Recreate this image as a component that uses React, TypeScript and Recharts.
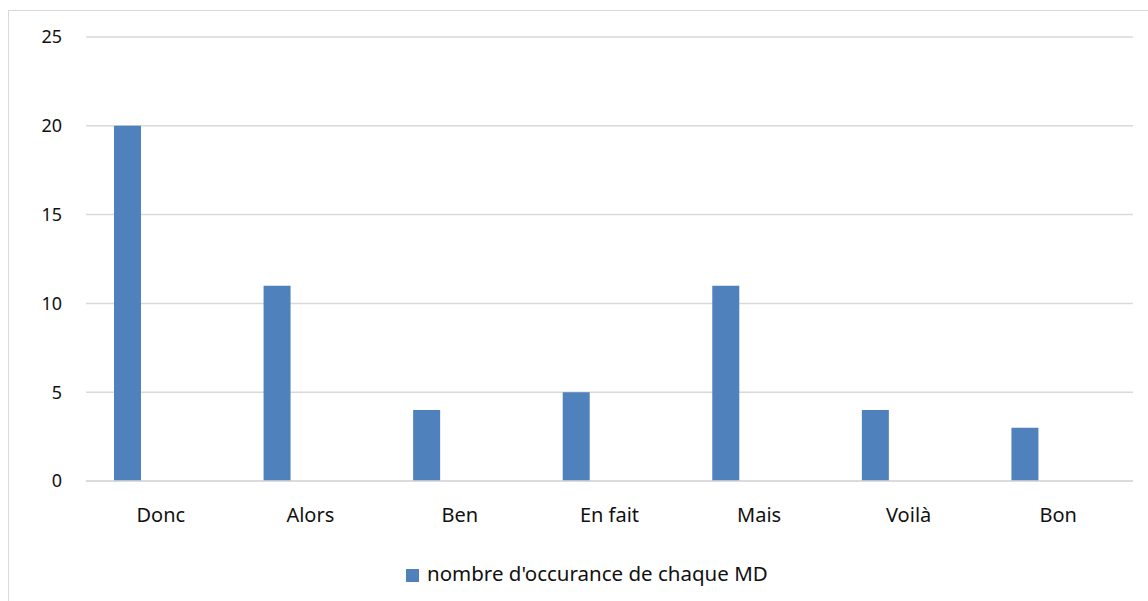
import { BarChart, Bar, XAxis, YAxis, CartesianGrid, Legend } from "recharts";

// Marqueurs discursifs (MD) et leurs occurrences
const categories = ["Donc", "Alors", "Ben", "En fait", "Mais", "Voilà", "Bon"];
const occurrences = [20, 11, 4, 5, 11, 4, 3];
// second series is empty in the source chart (keeps the bar on the left of each band)
const serieVide: (number | null)[] = [null, null, null, null, null, null, null];
const yTicks = [0, 5, 10, 15, 20, 25];

const SERIES_NAME = "nombre d'occurance de chaque MD";
const BLUE = "#4f81bd";
const GRID = "#d9d9d9";
const FONT = "'Noto Sans', sans-serif";

const data = categories.map((name, i) => ({
  name,
  occ: occurrences[i],
  vide: serieVide[i],
}));

export default function App() {
  return (
    <div
      style={{
        position: "absolute",
        left: 8,
        top: 10,
        width: 1142,
        height: 600,
        border: `1px solid ${GRID}`,
        boxSizing: "border-box",
        background: "#fff",
        fontFamily: FONT,
      }}
    >
      <BarChart
        width={1140}
        height={590}
        data={data}
        margin={{ top: 26, right: 16, left: 17, bottom: 62 }}
        barSize={27}
        barGap={40}
      >
        <CartesianGrid vertical={false} stroke={GRID} strokeWidth={1.5} />
        <XAxis
          dataKey="name"
          axisLine={{ stroke: GRID, strokeWidth: 1.5 }}
          tickLine={false}
          tickMargin={21}
          tick={{ fontSize: 20, fill: "#111", fontFamily: FONT }}
        />
        <YAxis
          width={60}
          domain={[0, 25]}
          ticks={yTicks}
          axisLine={false}
          tickLine={false}
          tickMargin={18}
          tick={{ fontSize: 18, fill: "#111", fontFamily: FONT }}
        />
        <Legend
          verticalAlign="bottom"
          align="left"
          iconType="square"
          iconSize={13}
          wrapperStyle={{ left: 397, top: 548, width: "auto", fontSize: 20.5, fontFamily: FONT }}
          formatter={(v) => <span style={{ color: "#111", marginLeft: 4 }}>{v}</span>}
        />
        <Bar dataKey="occ" name={SERIES_NAME} fill={BLUE} isAnimationActive={false} />
        <Bar dataKey="vide" name="vide" fill={BLUE} legendType="none" isAnimationActive={false} />
      </BarChart>
    </div>
  );
}
